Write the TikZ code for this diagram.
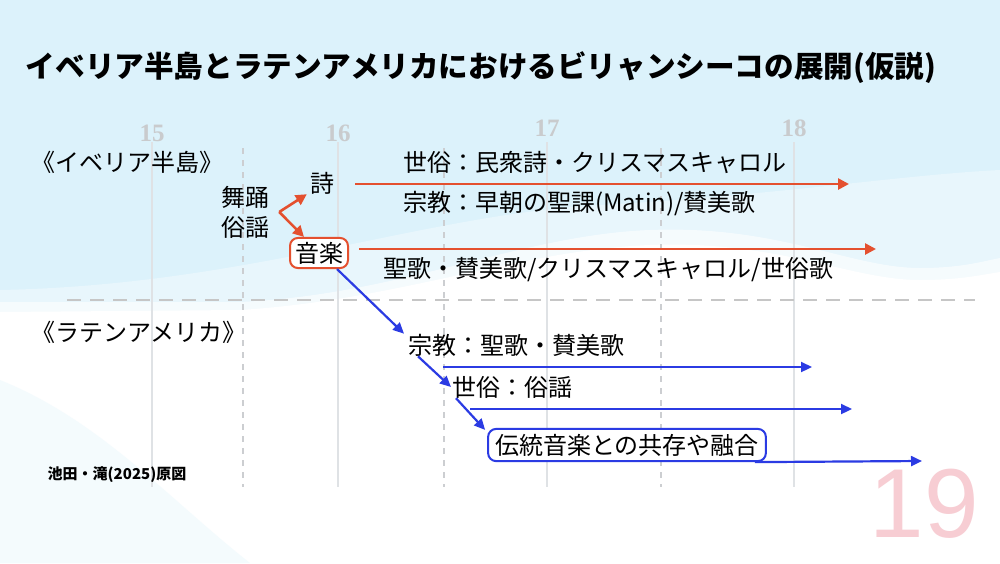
\documentclass[tikz,border=0pt]{standalone}
\usepackage{fontspec}
\usepackage{xcolor}
\usepackage{tikz}
\usetikzlibrary{shapes, arrows.meta, calc, positioning}
\newfontfamily\jp{Noto Sans CJK JP}
\newfontfamily\yr{Liberation Serif}
\newfontfamily\pg{Liberation Sans}
\definecolor{iberred}{HTML}{E4502F}
\definecolor{latblue}{HTML}{2B3BE3}
\definecolor{skybg}{HTML}{DCF2FB}
\definecolor{gridgray}{HTML}{DFE2E5}
\definecolor{yeargray}{HTML}{C9CBCD}
\definecolor{pagepink}{HTML}{F7CDD3}

\begin{document}
\begin{tikzpicture}[x=1pt, y=-1pt, every node/.style={inner sep=0pt, font=\jp\fontsize{24}{30}\selectfont},
    redarrow/.style={draw=iberred, line width=2.6pt, -{Triangle[width=11pt,length=11pt]}},
    bluearrow/.style={draw=latblue, line width=2.2pt, -{Triangle[width=10pt,length=11pt]}},
    redbox/.style={draw=iberred, line width=2pt, rounded corners=8pt, fill=white, inner xsep=5pt, inner ysep=4pt},
    bluebox/.style={draw=latblue, line width=2pt, rounded corners=8pt, fill=white, inner xsep=7pt, inner ysep=5pt},
    yearlabel/.style={font=\yr\bfseries\fontsize{25}{28}\selectfont, text=yeargray}]
    \useasboundingbox (0,0) rectangle (1000,563);
    % background
    \fill[skybg] (0,0) rectangle (1000,563);
    \fill[white, opacity=0.35] (0,290) .. controls (250,285) and (420,215) .. (600,205) .. controls (780,195) and (900,175) .. (1000,170) -- (1000,563) -- (0,563) -- cycle;
    \fill[white, opacity=0.6] (0,302) -- (240,302) .. controls (400,295) and (520,235) .. (650,230) .. controls (780,225) and (850,268) .. (920,268) .. controls (960,268) and (980,262) .. (1000,258) -- (1000,563) -- (0,563) -- cycle;
    \fill[white] (0,312) -- (240,310) .. controls (400,300) and (520,250) .. (650,245) .. controls (780,240) and (850,280) .. (920,280) .. controls (960,280) and (980,275) .. (1000,272) -- (1000,563) -- (0,563) -- cycle;
    \fill[skybg, opacity=0.3] (0,380) .. controls (100,420) and (170,500) .. (250,563) -- (0,563) -- cycle;
    % centuries
    \foreach \x/\c/\h in {152/15/133, 338/16/133, 547/17/128, 794/18/128} {
        \node[yearlabel] (c\c) at (\x,\h) {\c};
        \draw[gridgray, line width=2pt] (\x,142) -- (\x,487);
    }
    \foreach \x in {243,444,661}
        \draw[gridgray!80!gray, line width=1.4pt, dash pattern=on 6pt off 6pt] (\x,148) -- (\x,487);
    \draw[gray!45, line width=2.5pt, dash pattern=on 14pt off 9pt] (67,300) -- (975,300);
    % title
    \node (title) at (481,68) {\fontsize{29.6}{32}\selectfont\bfseries イベリア半島とラテンアメリカにおけるビリャンシーコの展開(仮説)};
    % Iberia
    \node (iber) at (127,162) {《イベリア半島》};
    \node[align=center] (dance) at (245,212) {舞踊\\俗謡};
    \node (shi) at (322,183) {詩};
    \node[redbox] (ongaku) at (319,253) {音楽};
    \draw[redarrow] ([xshift=10pt]dance.east) -- ([xshift=-3pt]shi.south west);
    \draw[redarrow] ([xshift=10pt]dance.east) -- ($(ongaku.north west)!0.25!(ongaku.north east)$);
    \node[anchor=west] (secpoem) at (403,162) {世俗：民衆詩・クリスマスキャロル};
    \node[anchor=west] (relpoem) at (403,204) {宗教：早朝の聖課(Matin)/賛美歌};
    \node[anchor=west] (ibmusic) at (383,270) {聖歌・賛美歌/クリスマスキャロル/世俗歌};
    \coordinate (r1e) at (849,184);
    \coordinate (r2e) at (876,249);
    \draw[redarrow, shorten <=21pt] (shi.east |- r1e) -- (r1e);
    \draw[redarrow, shorten <=10pt] (ongaku.east |- r2e) -- (r2e);
    % Latin America
    \node (lat) at (139,332) {《ラテンアメリカ》};
    \node[anchor=west] (latrel) at (408,345) {宗教：聖歌・賛美歌};
    \node[anchor=west] (latsec) at (452,387) {世俗：俗謡};
    \node[bluebox] (fusion) at (627,445) {伝統音楽との共存や融合};
    \draw[bluearrow] ($(ongaku.south west)!0.8!(ongaku.south east)$) -- ([xshift=-4pt]latrel.north west);
    \draw[bluearrow] ([xshift=10pt]latrel.south west) -- ([xshift=-1pt]latsec.west);
    \draw[bluearrow] ([xshift=4pt]latsec.south west) -- ([xshift=-2pt,yshift=-2pt]fusion.north west);
    \coordinate (b1s) at (443,367);
    \coordinate (b1e) at (812,367);
    \coordinate (b2s) at (470,409);
    \coordinate (b2e) at (852,409);
    \coordinate (b3e) at (922,461);
    \draw[bluearrow] (b1s) -- (b1e);
    \draw[bluearrow] (b2s) -- (b2e);
    \draw[bluearrow] ([xshift=-12pt]fusion.south east) -- (b3e);
    % source and page
    \node (credit) at (117,475) {\fontsize{15}{17}\selectfont\bfseries 池田・滝(2025)原図};
    \node[font=\pg\fontsize{98}{98}\selectfont, text=pagepink] (pageno) at (924,504) {19};
\end{tikzpicture}
\end{document}
